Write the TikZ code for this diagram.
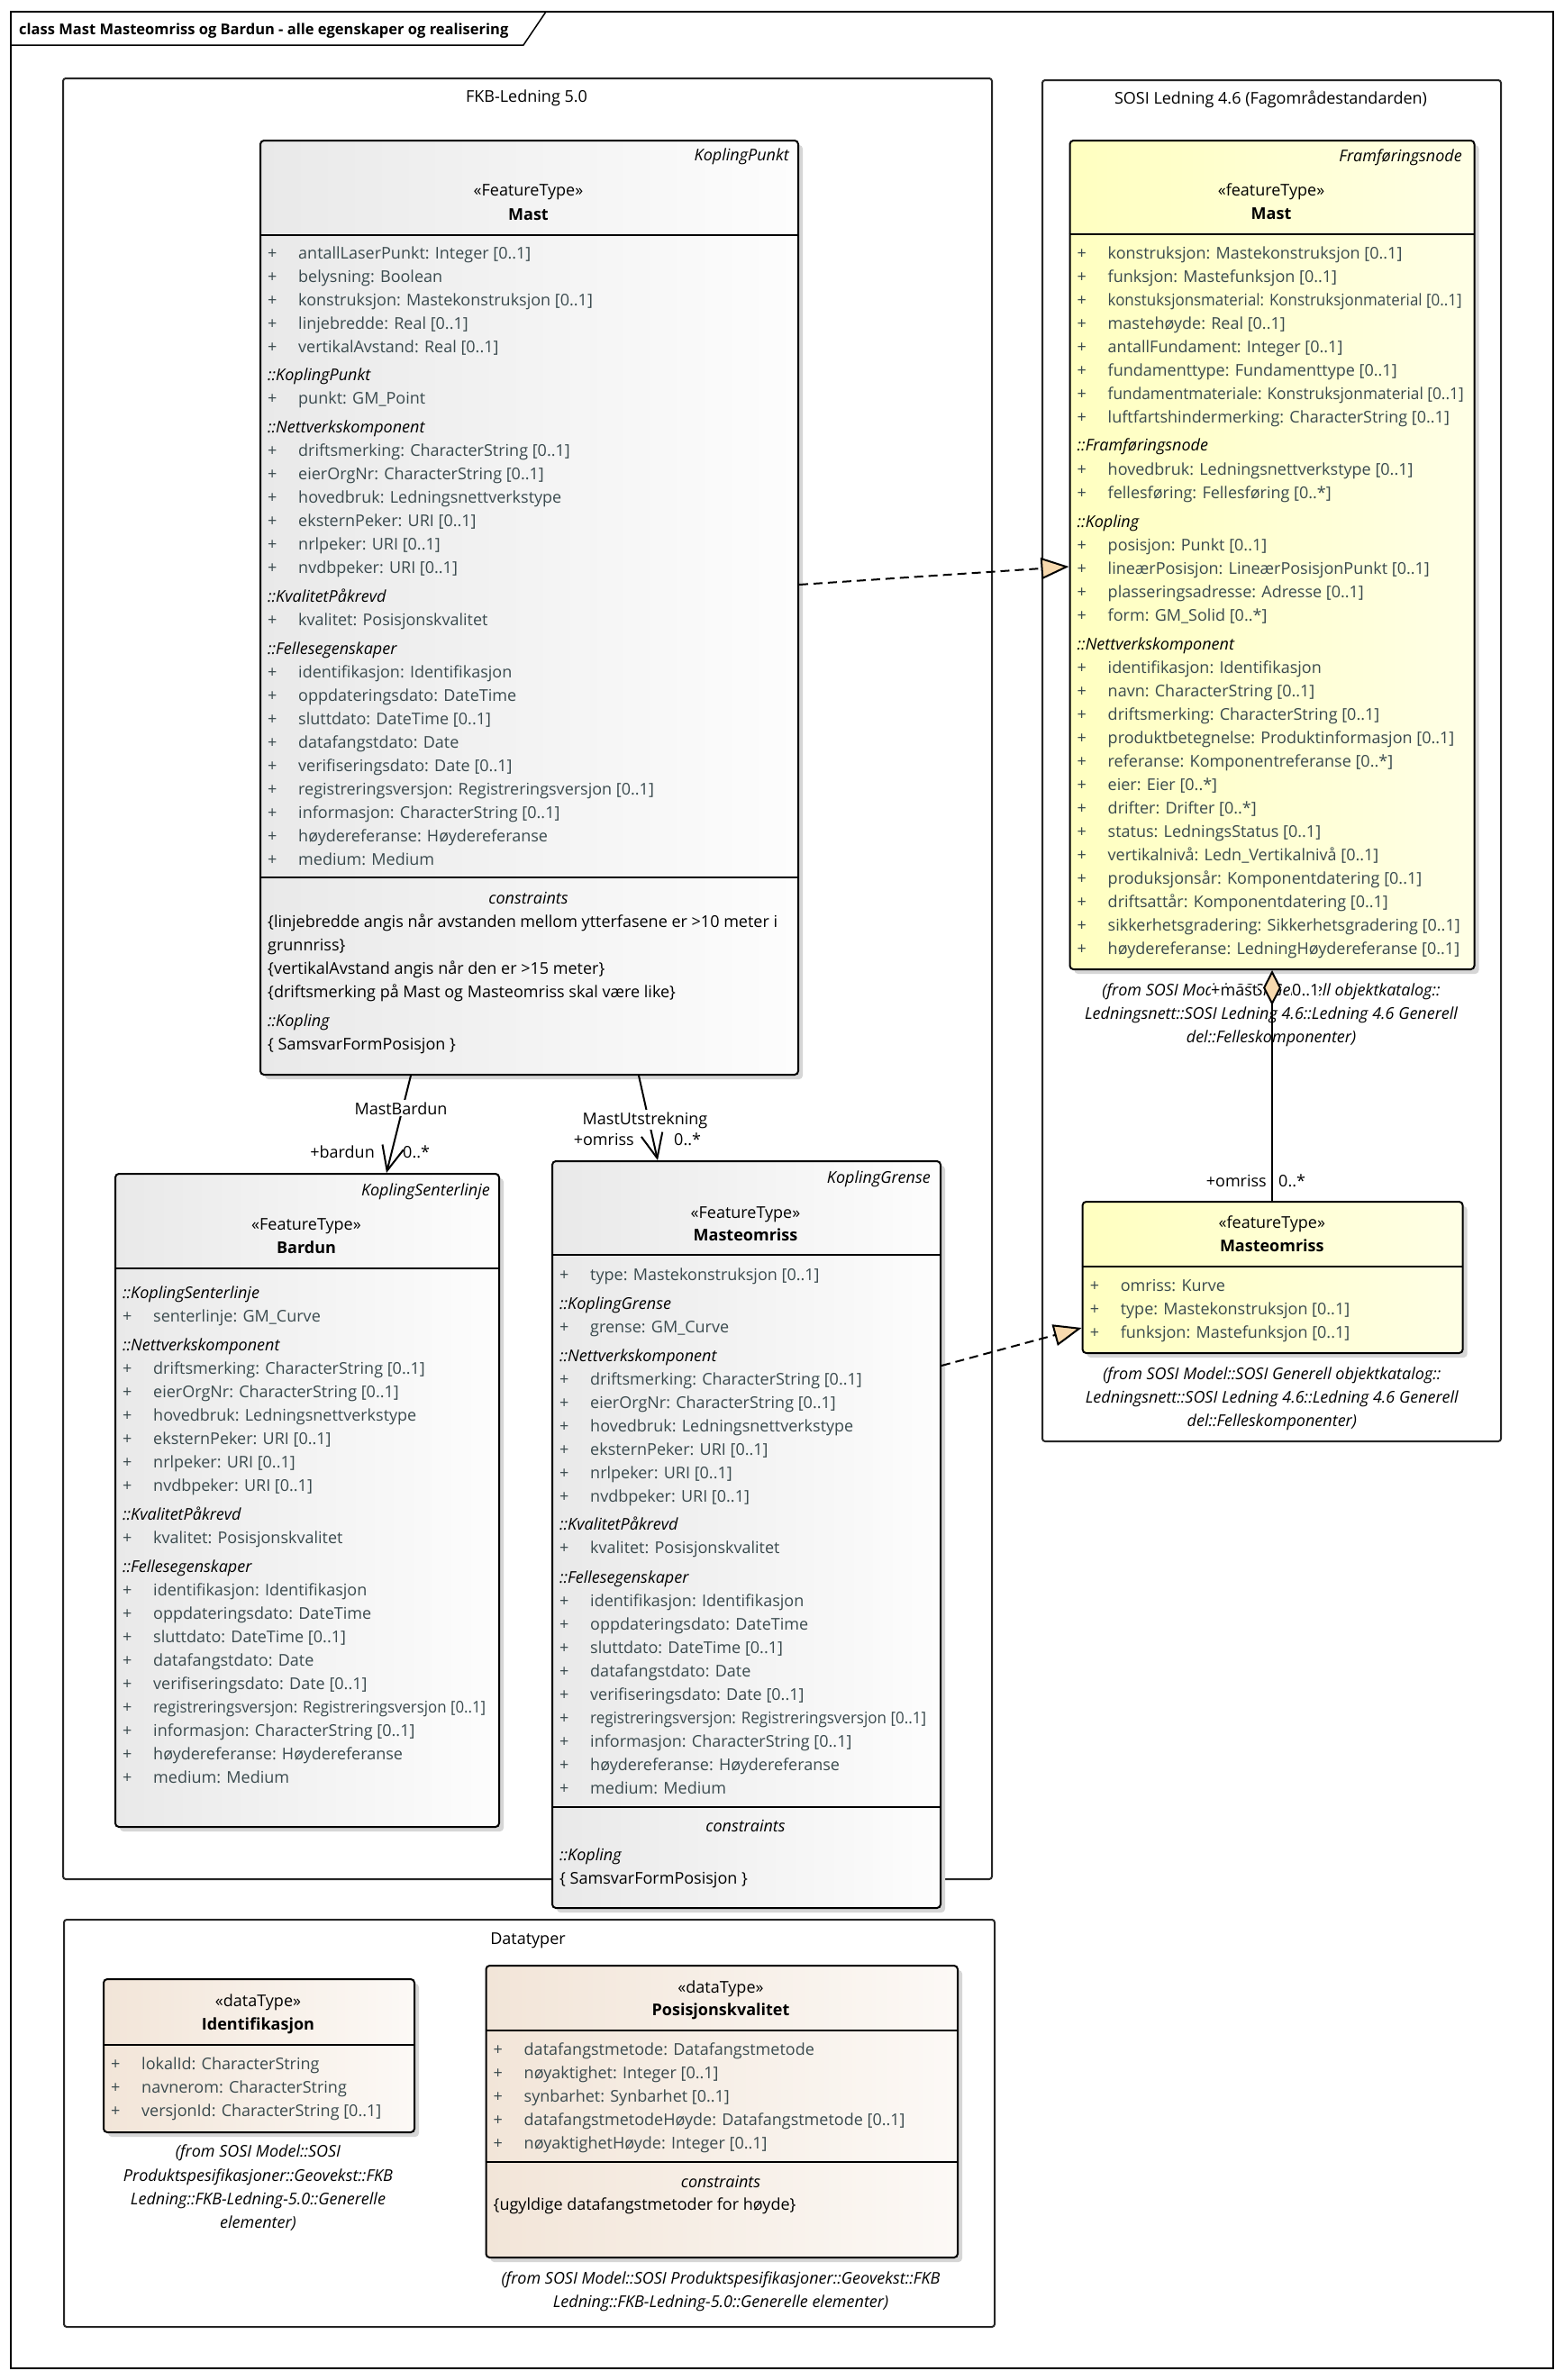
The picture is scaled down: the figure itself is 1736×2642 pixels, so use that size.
\documentclass[tikz,border=0pt]{standalone}
\usepackage{fontspec}
\usepackage{graphicx}
\setmainfont{Open Sans}
\usetikzlibrary{arrows.meta,shadows}
\definecolor{attrgray}{HTML}{3A4A4E}
\definecolor{grayleft}{HTML}{E9E9E9}
\definecolor{grayright}{HTML}{FDFDFD}
\definecolor{yelleft}{HTML}{FFFFC0}
\definecolor{yelright}{HTML}{FFFFE6}
\definecolor{dtleft}{HTML}{F2E5D8}
\definecolor{dtright}{HTML}{FCF9F6}
\definecolor{realfill}{HTML}{F7D9AE}
\definecolor{shadowgray}{HTML}{D6D6D6}
\newcommand{\umlfont}{\fontsize{18}{26}\selectfont}
\newcommand{\vis}{\makebox[34pt][l]{+}}

\begin{document}
\begin{tikzpicture}[x=1pt,y=-1pt]
\tikzstyle{every node}+=[inner sep=0pt]
\tikzstyle{attr}=[anchor=base west,text=attrgray,font=\umlfont]
\tikzstyle{sect}=[anchor=base west,font=\umlfont\itshape]
\tikzstyle{cons}=[anchor=base west,font=\umlfont]
\tikzstyle{stereo}=[anchor=base,font=\umlfont]
\tikzstyle{cname}=[anchor=base,font=\umlfont\bfseries]
\tikzstyle{contitle}=[anchor=base,font=\umlfont\itshape]
\tikzstyle{parent}=[anchor=base east,font=\umlfont\itshape]
\tikzstyle{fromtxt}=[anchor=base,font=\umlfont\itshape]
\tikzstyle{pkgtitle}=[anchor=base,font=\umlfont]
\tikzstyle{role}=[font=\umlfont]
\tikzstyle{conlabel}=[anchor=base,font=\umlfont,fill=white,inner sep=2pt]
\tikzstyle{pkg}=[draw=black!85,line width=2pt,rounded corners=3pt,anchor=north west]
\tikzstyle{classbox}=[draw=black,line width=2pt,rounded corners=4pt,anchor=north west,
  drop shadow={shadow xshift=5pt,shadow yshift=-5pt,fill=shadowgray,opacity=1}]
\tikzstyle{graybox}=[classbox,left color=grayleft,right color=grayright]
\tikzstyle{yellowbox}=[classbox,left color=yelleft,right color=yelright]
\tikzstyle{dtbox}=[classbox,left color=dtleft,right color=dtright]
\tikzstyle{sep}=[line width=2.5pt]
\tikzstyle{assoc}=[line width=2pt,-{Straight Barb[length=27pt,width=24pt]}]
\tikzstyle{realize}=[line width=2pt,dash pattern=on 10pt off 6pt,-{Triangle[length=31pt,width=24pt,fill=realfill]}]
\tikzstyle{aggr}=[line width=2pt,{Diamond[length=39pt,width=20pt,fill=realfill]}-]

\useasboundingbox (0,0) rectangle (1736,2642);
\fill[white] (0,0) rectangle (1736,2642);

\draw[line width=1.5pt] (12,13) rectangle (1724,2629);
\draw[line width=1.5pt] (12,50) -- (581,50) -- (606,13);
\node[anchor=base west,font=\fontsize{16.5}{20}\selectfont\bfseries] (title) at (21,38) {class Mast Masteomriss og Bardun - alle egenskaper og realisering};

\node[pkg,minimum width=1031pt,minimum height=1999pt] (pfkb) at (69,86) {};
\node[pkgtitle] (pfkbt) at (584.5,113) {FKB-Ledning 5.0};
\node[pkg,minimum width=509pt,minimum height=1511pt] (psosi) at (1156,88) {};
\node[pkgtitle] (psosit) at (1410.5,115) {SOSI Ledning 4.6 (Fagområdestandarden)};
\node[pkg,minimum width=1033pt,minimum height=452pt] (pdt) at (70,2130) {};
\node[pkgtitle] (pdtt) at (586,2158) {Datatyper};

\node[graybox,minimum width=597pt,minimum height=1037pt] (fmast) at (288,155) {};
\node[parent] (fmpar) at (876,178) {KoplingPunkt};
\node[stereo] (fmst) at (586.5,217) {«FeatureType»};
\node[cname] (fmname) at (586.5,244) {Mast};
\draw[sep] (288,261) -- (885,261);
\node[attr] (fm1) at (297,287) {\vis antallLaserPunkt: Integer [0..1]};
\node[attr] (fm2) at (297,313) {\vis belysning: Boolean};
\node[attr] (fm3) at (297,339) {\vis konstruksjon: Mastekonstruksjon [0..1]};
\node[attr] (fm4) at (297,365) {\vis linjebredde: Real [0..1]};
\node[attr] (fm5) at (297,391) {\vis vertikalAvstand: Real [0..1]};
\node[sect] (fm6) at (297,422) {::KoplingPunkt};
\node[attr] (fm7) at (297,448) {\vis punkt: GM\_Point};
\node[sect] (fm8) at (297,480) {::Nettverkskomponent};
\node[attr] (fm9) at (297,506) {\vis driftsmerking: CharacterString [0..1]};
\node[attr] (fm10) at (297,532) {\vis eierOrgNr: CharacterString [0..1]};
\node[attr] (fm11) at (297,558) {\vis hovedbruk: Ledningsnettverkstype};
\node[attr] (fm12) at (297,584) {\vis eksternPeker: URI [0..1]};
\node[attr] (fm13) at (297,610) {\vis nrlpeker: URI [0..1]};
\node[attr] (fm14) at (297,636) {\vis nvdbpeker: URI [0..1]};
\node[sect] (fm15) at (297,668) {::KvalitetPåkrevd};
\node[attr] (fm16) at (297,694) {\vis kvalitet: Posisjonskvalitet};
\node[sect] (fm17) at (297,726) {::Fellesegenskaper};
\node[attr] (fm18) at (297,752) {\vis identifikasjon: Identifikasjon};
\node[attr] (fm19) at (297,778) {\vis oppdateringsdato: DateTime};
\node[attr] (fm20) at (297,804) {\vis sluttdato: DateTime [0..1]};
\node[attr] (fm21) at (297,830) {\vis datafangstdato: Date};
\node[attr] (fm22) at (297,856) {\vis verifiseringsdato: Date [0..1]};
\node[attr] (fm23) at (297,882) {\vis registreringsversjon: Registreringsversjon [0..1]};
\node[attr] (fm24) at (297,908) {\vis informasjon: CharacterString [0..1]};
\node[attr] (fm25) at (297,934) {\vis høydereferanse: Høydereferanse};
\node[attr] (fm26) at (297,960) {\vis medium: Medium};
\draw[sep] (288,974) -- (885,974);
\node[contitle] (fmcon) at (586.5,1003) {constraints};
\node[cons] (fmc1) at (297,1029) {\{linjebredde angis når avstanden mellom ytterfasene er >10 meter i};
\node[cons] (fmc2) at (297,1055) {grunnriss\}};
\node[cons] (fmc3) at (297,1081) {\{vertikalAvstand angis når den er >15 meter\}};
\node[cons] (fmc4) at (297,1107) {\{driftsmerking på Mast og Masteomriss skal være like\}};
\node[sect] (fmc5) at (297,1139) {::Kopling};
\node[cons] (fmc6) at (297,1165) {\{ SamsvarFormPosisjon \}};

\node[graybox,minimum width=426pt,minimum height=725pt] (bardun) at (127,1302) {};
\node[parent] (bdpar) at (544,1327) {KoplingSenterlinje};
\node[stereo] (bdst) at (340,1365) {«FeatureType»};
\node[cname] (bdname) at (340,1391) {Bardun};
\draw[sep] (127,1408) -- (553,1408);
\node[sect] (bd1) at (136,1441) {::KoplingSenterlinje};
\node[attr] (bd2) at (136,1467) {\vis senterlinje: GM\_Curve};
\node[sect] (bd3) at (136,1499) {::Nettverkskomponent};
\node[attr] (bd4) at (136,1525) {\vis driftsmerking: CharacterString [0..1]};
\node[attr] (bd5) at (136,1551) {\vis eierOrgNr: CharacterString [0..1]};
\node[attr] (bd6) at (136,1577) {\vis hovedbruk: Ledningsnettverkstype};
\node[attr] (bd7) at (136,1603) {\vis eksternPeker: URI [0..1]};
\node[attr] (bd8) at (136,1629) {\vis nrlpeker: URI [0..1]};
\node[attr] (bd9) at (136,1655) {\vis nvdbpeker: URI [0..1]};
\node[sect] (bd10) at (136,1687) {::KvalitetPåkrevd};
\node[attr] (bd11) at (136,1713) {\vis kvalitet: Posisjonskvalitet};
\node[sect] (bd12) at (136,1745) {::Fellesegenskaper};
\node[attr] (bd13) at (136,1771) {\vis identifikasjon: Identifikasjon};
\node[attr] (bd14) at (136,1797) {\vis oppdateringsdato: DateTime};
\node[attr] (bd15) at (136,1823) {\vis sluttdato: DateTime [0..1]};
\node[attr] (bd16) at (136,1849) {\vis datafangstdato: Date};
\node[attr] (bd17) at (136,1875) {\vis verifiseringsdato: Date [0..1]};
\node[attr] (bd18) at (136,1901) {\vis \scalebox{0.935}[1]{registreringsversjon: Registreringsversjon [0..1]}};
\node[attr] (bd19) at (136,1927) {\vis informasjon: CharacterString [0..1]};
\node[attr] (bd20) at (136,1953) {\vis høydereferanse: Høydereferanse};
\node[attr] (bd21) at (136,1979) {\vis medium: Medium};

\node[graybox,minimum width=431pt,minimum height=829pt] (fomriss) at (612,1288) {};
\node[parent] (fopar) at (1033,1313) {KoplingGrense};
\node[stereo] (fost) at (827.5,1352) {«FeatureType»};
\node[cname] (foname) at (827.5,1377) {Masteomriss};
\draw[sep] (612,1393) -- (1043,1393);
\node[attr] (fo1) at (621,1421) {\vis type: Mastekonstruksjon [0..1]};
\node[sect] (fo2) at (621,1453) {::KoplingGrense};
\node[attr] (fo3) at (621,1479) {\vis grense: GM\_Curve};
\node[sect] (fo4) at (621,1511) {::Nettverkskomponent};
\node[attr] (fo5) at (621,1537) {\vis driftsmerking: CharacterString [0..1]};
\node[attr] (fo6) at (621,1563) {\vis eierOrgNr: CharacterString [0..1]};
\node[attr] (fo7) at (621,1589) {\vis hovedbruk: Ledningsnettverkstype};
\node[attr] (fo8) at (621,1615) {\vis eksternPeker: URI [0..1]};
\node[attr] (fo9) at (621,1641) {\vis nrlpeker: URI [0..1]};
\node[attr] (fo10) at (621,1667) {\vis nvdbpeker: URI [0..1]};
\node[sect] (fo11) at (621,1698) {::KvalitetPåkrevd};
\node[attr] (fo12) at (621,1724) {\vis kvalitet: Posisjonskvalitet};
\node[sect] (fo13) at (621,1757) {::Fellesegenskaper};
\node[attr] (fo14) at (621,1783) {\vis identifikasjon: Identifikasjon};
\node[attr] (fo15) at (621,1809) {\vis oppdateringsdato: DateTime};
\node[attr] (fo16) at (621,1835) {\vis sluttdato: DateTime [0..1]};
\node[attr] (fo17) at (621,1861) {\vis datafangstdato: Date};
\node[attr] (fo18) at (621,1887) {\vis verifiseringsdato: Date [0..1]};
\node[attr] (fo19) at (621,1913) {\vis \scalebox{0.945}[1]{registreringsversjon: Registreringsversjon [0..1]}};
\node[attr] (fo20) at (621,1939) {\vis informasjon: CharacterString [0..1]};
\node[attr] (fo21) at (621,1965) {\vis høydereferanse: Høydereferanse};
\node[attr] (fo22) at (621,1991) {\vis medium: Medium};
\draw[sep] (612,2006) -- (1043,2006);
\node[contitle] (focon) at (827.5,2033) {constraints};
\node[sect] (fo23) at (621,2065) {::Kopling};
\node[cons] (fo24) at (621,2091) {\{ SamsvarFormPosisjon \}};

\node[yellowbox,minimum width=449pt,minimum height=920pt] (ymast) at (1186.5,155) {};
\node[parent] (ympar) at (1623,179) {Framføringsnode};
\node[stereo] (ymst) at (1411,217) {«featureType»};
\node[cname] (ymname) at (1411,243) {Mast};
\draw[sep] (1186.5,260) -- (1635.5,260);
\node[attr] (ym1) at (1195.5,287) {\vis konstruksjon: Mastekonstruksjon [0..1]};
\node[attr] (ym2) at (1195.5,313) {\vis funksjon: Mastefunksjon [0..1]};
\node[attr] (ym3) at (1195.5,339) {\vis \scalebox{0.94}[1]{konstuksjonsmaterial: Konstruksjonmaterial [0..1]}};
\node[attr] (ym4) at (1195.5,365) {\vis mastehøyde: Real [0..1]};
\node[attr] (ym5) at (1195.5,391) {\vis antallFundament: Integer [0..1]};
\node[attr] (ym6) at (1195.5,417) {\vis fundamenttype: Fundamenttype [0..1]};
\node[attr] (ym7) at (1195.5,443) {\vis \scalebox{0.96}[1]{fundamentmateriale: Konstruksjonmaterial [0..1]}};
\node[attr] (ym8) at (1195.5,469) {\vis luftfartshindermerking: CharacterString [0..1]};
\node[sect] (ym9) at (1195.5,500) {::Framføringsnode};
\node[attr] (ym10) at (1195.5,527) {\vis hovedbruk: Ledningsnettverkstype [0..1]};
\node[attr] (ym11) at (1195.5,553) {\vis fellesføring: Fellesføring [0..*]};
\node[sect] (ym12) at (1195.5,585) {::Kopling};
\node[attr] (ym13) at (1195.5,611) {\vis posisjon: Punkt [0..1]};
\node[attr] (ym14) at (1195.5,637) {\vis lineærPosisjon: LineærPosisjonPunkt [0..1]};
\node[attr] (ym15) at (1195.5,663) {\vis plasseringsadresse: Adresse [0..1]};
\node[attr] (ym16) at (1195.5,689) {\vis form: GM\_Solid [0..*]};
\node[sect] (ym17) at (1195.5,721) {::Nettverkskomponent};
\node[attr] (ym18) at (1195.5,747) {\vis identifikasjon: Identifikasjon};
\node[attr] (ym19) at (1195.5,773) {\vis navn: CharacterString [0..1]};
\node[attr] (ym20) at (1195.5,799) {\vis driftsmerking: CharacterString [0..1]};
\node[attr] (ym21) at (1195.5,825) {\vis produktbetegnelse: Produktinformasjon [0..1]};
\node[attr] (ym22) at (1195.5,851) {\vis referanse: Komponentreferanse [0..*]};
\node[attr] (ym23) at (1195.5,877) {\vis eier: Eier [0..*]};
\node[attr] (ym24) at (1195.5,903) {\vis drifter: Drifter [0..*]};
\node[attr] (ym25) at (1195.5,929) {\vis status: LedningsStatus [0..1]};
\node[attr] (ym26) at (1195.5,955) {\vis vertikalnivå: Ledn\_Vertikalnivå [0..1]};
\node[attr] (ym27) at (1195.5,981) {\vis produksjonsår: Komponentdatering [0..1]};
\node[attr] (ym28) at (1195.5,1007) {\vis driftsattår: Komponentdatering [0..1]};
\node[attr] (ym29) at (1195.5,1033) {\vis sikkerhetsgradering: Sikkerhetsgradering [0..1]};
\node[attr] (ym30) at (1195.5,1059) {\vis høydereferanse: LedningHøydereferanse [0..1]};
\node[fromtxt] (ymf1) at (1411,1105) {(from SOSI Model::SOSI Generell objektkatalog::};
\node[fromtxt] (ymf2) at (1411,1131) {Ledningsnett::SOSI Ledning 4.6::Ledning 4.6 Generell};
\node[fromtxt] (ymf3) at (1411,1157) {del::Felleskomponenter)};

\node[yellowbox,minimum width=422pt,minimum height=168pt] (yomriss) at (1200.6,1333) {};
\node[stereo] (yost) at (1411.8,1363) {«featureType»};
\node[cname] (yoname) at (1411.8,1389) {Masteomriss};
\draw[sep] (1200.6,1406) -- (1622.6,1406);
\node[attr] (yo1) at (1209.6,1433) {\vis omriss: Kurve};
\node[attr] (yo2) at (1209.6,1459) {\vis type: Mastekonstruksjon [0..1]};
\node[attr] (yo3) at (1209.6,1485) {\vis funksjon: Mastefunksjon [0..1]};
\node[fromtxt] (yof1) at (1411.8,1531) {(from SOSI Model::SOSI Generell objektkatalog::};
\node[fromtxt] (yof2) at (1411.8,1557) {Ledningsnett::SOSI Ledning 4.6::Ledning 4.6 Generell};
\node[fromtxt] (yof3) at (1411.8,1583) {del::Felleskomponenter)};

\node[dtbox,minimum width=345pt,minimum height=170pt] (ident) at (114,2196) {};
\node[stereo] (idst) at (286.5,2227) {«dataType»};
\node[cname] (idname) at (286.5,2253) {Identifikasjon};
\draw[sep] (114,2270) -- (459,2270);
\node[attr] (id1) at (123,2297) {\vis lokalId: CharacterString};
\node[attr] (id2) at (123,2323) {\vis navnerom: CharacterString};
\node[attr] (id3) at (123,2349) {\vis versjonId: CharacterString [0..1]};
\node[fromtxt] (idf1) at (286.5,2394) {(from SOSI Model::SOSI};
\node[fromtxt] (idf2) at (286.5,2421) {Produktspesifikasjoner::Geovekst::FKB};
\node[fromtxt] (idf3) at (286.5,2447) {Ledning::FKB-Ledning-5.0::Generelle};
\node[fromtxt] (idf4) at (286.5,2473) {elementer)};

\node[dtbox,minimum width=523.5pt,minimum height=324pt] (poskval) at (538.5,2181) {};
\node[stereo] (pkst) at (800,2212) {«dataType»};
\node[cname] (pkname) at (800,2237) {Posisjonskvalitet};
\draw[sep] (538.5,2254) -- (1062,2254);
\node[attr] (pk1) at (547.5,2281) {\vis datafangstmetode: Datafangstmetode};
\node[attr] (pk2) at (547.5,2307) {\vis nøyaktighet: Integer [0..1]};
\node[attr] (pk3) at (547.5,2333) {\vis synbarhet: Synbarhet [0..1]};
\node[attr] (pk4) at (547.5,2359) {\vis datafangstmetodeHøyde: Datafangstmetode [0..1]};
\node[attr] (pk5) at (547.5,2385) {\vis nøyaktighetHøyde: Integer [0..1]};
\draw[sep] (538.5,2400) -- (1062,2400);
\node[contitle] (pkcon) at (800,2428) {constraints};
\node[cons] (pkc1) at (547.5,2453) {\{ugyldige datafangstmetoder for høyde\}};
\node[fromtxt] (pkf1) at (800,2535) {(from SOSI Model::SOSI Produktspesifikasjoner::Geovekst::FKB};
\node[fromtxt] (pkf2) at (800,2561) {Ledning::FKB-Ledning-5.0::Generelle elementer)};

\node[role,anchor=base west,fill=white] (rmast) at (1344,1105) {+mast};
\node[role,anchor=base west,fill=white] (rmastm) at (1434,1105) {0..1};
\node[role,anchor=base east] (romr) at (1406,1317) {+omriss};
\node[role,anchor=base west] (romrm) at (1419,1317) {0..*};

\draw[assoc] ([xshift=-131.5pt]fmast.south) -- ([xshift=88pt]bardun.north);
\draw[assoc] ([xshift=121.5pt]fmast.south) -- ([xshift=-98.5pt]fomriss.north);
\draw[realize] ([yshift=25.5pt]fmast.east) -- ([yshift=-13pt]ymast.west);
\draw[realize] ([yshift=187.5pt]fomriss.east) -- ([yshift=-56pt]yomriss.west);
\draw[aggr] (ymast.south) -- (ymast.south |- yomriss.north);

\node[conlabel] (lbard) at (445,1237) {MastBardun};
\node[role,anchor=base east] (rbard) at (416,1285) {+bardun};
\node[role,anchor=base west] (rbardm) at (447,1285) {0..*};
\node[conlabel] (lutstr) at (716,1248) {MastUtstrekning};
\node[role,anchor=base east] (rutstr) at (704,1271) {+omriss};
\node[role,anchor=base west] (rutstrm) at (748,1271) {0..*};
\end{tikzpicture}
\end{document}
